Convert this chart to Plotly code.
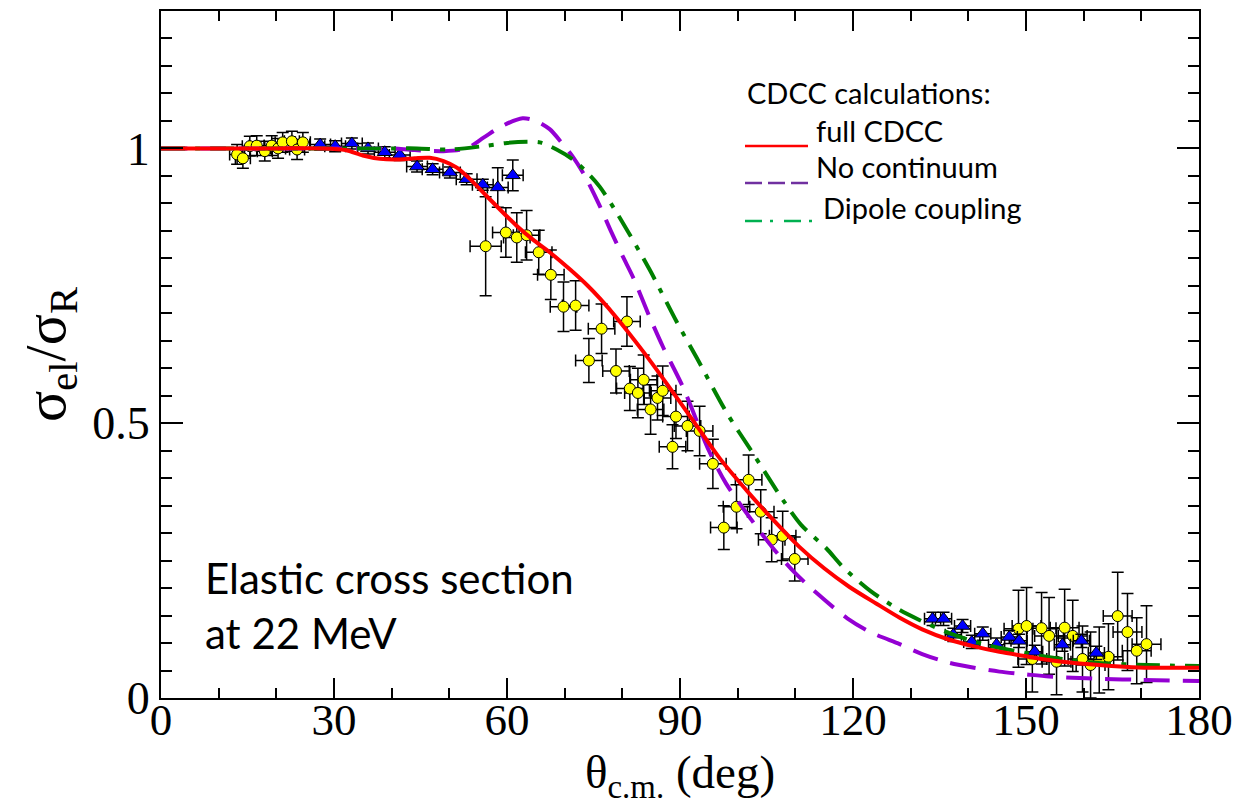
import plotly.graph_objects as go

# ---------------- data ----------------
# Theory curves (theta in deg, sigma_el/sigma_R)
full_x = [0, 10, 20, 28, 32, 35, 38, 41.4, 44, 46.6, 49, 51.3, 53.5, 56.5, 60, 62, 64.5, 67.4, 71, 74, 76.1,
          79, 83.5, 87.7, 93.4, 96.9, 102.1, 106, 110.7, 115, 119.4, 124, 128.1, 132, 136.7, 141, 145.4,
          150, 154, 158, 162.7, 167, 171.4, 176, 180]
full_y = [1.0, 1.0, 1.0, 1.0, 0.997, 0.987, 0.981, 0.98, 0.982, 0.983, 0.977, 0.965, 0.945, 0.913, 0.876,
          0.856, 0.834, 0.811, 0.779, 0.750, 0.727, 0.692, 0.632, 0.572, 0.488, 0.436, 0.371, 0.326, 0.275,
          0.236, 0.202, 0.172, 0.146, 0.125, 0.106, 0.094, 0.084, 0.076, 0.069, 0.064, 0.060, 0.057, 0.055,
          0.055, 0.055]

nocont_x = [0, 10, 20, 30, 38, 40, 44, 49, 53, 56, 59, 62.7, 65, 67.4, 69.5, 71.4, 73.5, 76.1, 78, 80.1, 81.8,
            84.7, 87, 90.5, 95.1, 98, 102.4, 106.1, 109.9, 113.7, 119, 123, 128.1, 132, 136.7, 141, 145.4,
            150, 154, 158, 162.7, 170, 180]
nocont_y = [1.0, 1.0, 1.0, 1.0, 1.0, 1.0, 0.997, 0.995, 1.0, 1.02, 1.04, 1.055, 1.05, 1.035, 1.01, 0.985,
            0.95, 0.895, 0.85, 0.803, 0.767, 0.694, 0.640, 0.566, 0.448, 0.39, 0.324, 0.273, 0.228, 0.191,
            0.145, 0.12, 0.098, 0.08, 0.064, 0.055, 0.048, 0.043, 0.039, 0.037, 0.035, 0.033, 0.031]

dipole_x = [0, 10, 20, 30, 40, 44.4, 50, 55.8, 60, 63.5, 65.7, 68.6, 71.4, 74, 76.1, 79.2, 84.7, 89.4, 92.9,
            98.1, 102.6, 107.8, 111, 115.4, 118.2, 123, 128.1, 131.5, 136.7, 141, 145, 150, 154, 158, 162,
            171, 180]
dipole_y = [1.0, 1.0, 1.0, 1.0, 1.0, 1.0, 0.998, 1.004, 1.01, 1.012, 1.011, 0.998, 0.98, 0.955, 0.93, 0.88,
            0.78, 0.685, 0.619, 0.519, 0.446, 0.361, 0.315, 0.272, 0.239, 0.195, 0.160, 0.142, 0.118, 0.103,
            0.092, 0.082, 0.074, 0.069, 0.064, 0.060, 0.058]

# Experimental data set 1 (yellow circles)
circ_x = [13.2, 14.2, 15.4, 16.6, 18.0, 19.2, 20.3, 21.1, 22.7, 23.6, 24.6,
          56.3, 59.8, 61.7, 63.4, 65.5, 67.6, 69.8, 71.9, 74.2, 76.4, 78.9, 80.8, 81.3, 82.7, 83.7, 84.9,
          86.1, 87.0, 88.7, 89.3, 91.3, 93.4, 95.7, 97.6, 99.8, 101.9, 104.0, 105.9, 107.8, 109.9,
          148.7, 150.1, 151.1, 152.7, 154.0, 155.3, 156.7, 158.1, 159.8, 161.2, 162.7, 164.3, 165.9, 167.6,
          169.2, 170.9]
circ_y = [0.989, 0.982, 1.004, 1.005, 0.995, 1.005, 1.0, 1.011, 1.013, 0.998, 1.011,
          0.822, 0.847, 0.838, 0.842, 0.811, 0.770, 0.712, 0.714, 0.614, 0.672, 0.595, 0.685, 0.563, 0.555,
          0.579, 0.525, 0.546, 0.559, 0.457, 0.512, 0.495, 0.486, 0.426, 0.310, 0.348, 0.397, 0.339, 0.288,
          0.295, 0.253,
          0.126, 0.131, 0.071, 0.127, 0.113, 0.066, 0.128, 0.113, 0.071, 0.060, 0.069, 0.075, 0.149, 0.120,
          0.086, 0.098]
circ_ex = [1.3] * 11 + [2.7] + [2.3] * 29 + [2.5] * 16
circ_ey = [0.018] * 11 + [0.09, 0.045, 0.045, 0.045, 0.04, 0.045, 0.045, 0.045, 0.04, 0.045, 0.04,
                          0.045, 0.04, 0.045, 0.045, 0.045, 0.04, 0.045, 0.04, 0.04, 0.045, 0.045, 0.045,
                          0.04, 0.04, 0.045, 0.04, 0.04, 0.045, 0.04] + \
          [0.07, 0.07, 0.06, 0.065, 0.07, 0.06, 0.07, 0.065, 0.06, 0.06, 0.06, 0.06, 0.08, 0.07, 0.06, 0.07]

# Experimental data set 2 (blue triangles)
tri_x = [27.6, 30.2, 33.1, 35.9, 38.8, 41.4, 44.4, 47.1, 50.1, 53.0, 55.8, 58.4, 61.0,
         133.8, 135.7, 137.4, 139.0, 140.6, 142.5, 144.9, 147.1, 148.8, 151.5, 156.3, 159.6, 162.2]
tri_y = [1.007, 1.004, 1.009, 1.0, 0.993, 0.988, 0.967, 0.962, 0.956, 0.944, 0.934, 0.929, 0.951,
         0.144, 0.144, 0.115, 0.131, 0.102, 0.117, 0.097, 0.111, 0.104, 0.084, 0.097, 0.104, 0.082]
tri_ex = [1.8] * 13 + [1.4] * 13
tri_ey = [0.01] * 11 + [0.036, 0.028] + [0.012] * 13

x_ticks = [0, 30, 60, 90, 120, 150, 180]
y_ticks = [0, 0.5, 1]
y_ticktext = ["0", "0.5", "1"]

# ---------------- figure ----------------
L, R, T, B = 161, 1199, 11, 698


def px(xp):
    return (xp - L) / (R - L)


def py(yp):
    return (B - yp) / (B - T)


fig = go.Figure()

err_style = dict(type="data", color="black", thickness=1.5, width=6, visible=True)

fig.add_trace(go.Scatter(
    x=circ_x, y=circ_y, mode="markers",
    marker=dict(symbol="circle", size=11, color="#ffff00", line=dict(color="black", width=1)),
    error_x=dict(array=circ_ex, **err_style),
    error_y=dict(array=circ_ey, **err_style),
    showlegend=False))

fig.add_trace(go.Scatter(
    x=tri_x, y=tri_y, mode="markers",
    marker=dict(symbol="triangle-up", size=13, color="#0000ff", line=dict(color="black", width=1)),
    error_x=dict(array=tri_ex, **err_style),
    error_y=dict(array=tri_ey, **err_style),
    showlegend=False))

fig.add_trace(go.Scatter(x=nocont_x, y=nocont_y, mode="lines",
                         line=dict(color="#9400d3", width=4, dash="26px,13px", shape="spline", smoothing=0.8),
                         showlegend=False))
fig.add_trace(go.Scatter(x=dipole_x, y=dipole_y, mode="lines",
                         line=dict(color="#008000", width=4, dash="24px,10px,5px,10px", shape="spline",
                                   smoothing=0.8),
                         showlegend=False))
fig.add_trace(go.Scatter(x=full_x, y=full_y, mode="lines",
                         line=dict(color="#ff0000", width=4, shape="spline", smoothing=0.8),
                         showlegend=False))

serif = "Liberation Serif, Times New Roman, serif"
sans = "Lato, Open Sans, sans-serif"

fig.update_xaxes(
    range=[0, 180], tickvals=x_ticks, ticks="inside", ticklen=20, tickwidth=1.5, tickcolor="black",
    minor=dict(dtick=10, ticks="inside", ticklen=10, tickwidth=1.5, tickcolor="black"),
    showline=True, linecolor="black", linewidth=2, mirror="ticks", showgrid=False, zeroline=False,
    tickfont=dict(family=serif, size=45, color="black"), ticklabelstandoff=-19,
)
fig.update_yaxes(
    range=[0, 1.25], tickvals=y_ticks, ticktext=y_ticktext, ticks="inside", ticklen=22, tickwidth=1.5,
    tickcolor="black",
    minor=dict(dtick=0.05, ticks="inside", ticklen=11, tickwidth=1.5, tickcolor="black"),
    showline=True, linecolor="black", linewidth=2, mirror="ticks", showgrid=False, zeroline=False,
    tickfont=dict(family=serif, size=46, color="black"),
    title=dict(text="σ<sub>el</sub>/σ<sub>R</sub>", font=dict(family=serif, size=58, color="black"), standoff=8),
)

legend_font = dict(family=sans, size=29, color="black")
annotations = [
    dict(x=px(745), y=py(92), text="CDCC calculations:", xanchor="left", yanchor="middle", font=legend_font),
    dict(x=px(814), y=py(131), text="full CDCC", xanchor="left", yanchor="middle", font=legend_font),
    dict(x=px(814), y=py(167), text="No continuum", xanchor="left", yanchor="middle", font=legend_font),
    dict(x=px(821), y=py(207), text="Dipole coupling", xanchor="left", yanchor="middle", font=legend_font),
    dict(x=px(203), y=py(605), text="Elastic cross section<br>at 22 MeV", xanchor="left", yanchor="middle",
         align="left", font=dict(family=sans, size=42, color="black")),
    # x-axis title
    dict(x=0.5, y=py(806), text="θ<sub>c.m.</sub> (deg)", xanchor="center", yanchor="bottom", borderpad=0,
         font=dict(family=serif, size=47, color="black")),
]
for a in annotations:
    a.update(xref="paper", yref="paper", showarrow=False)

shapes = [
    dict(type="line", x0=px(745), x1=px(808), y0=py(146), y1=py(146),
         line=dict(color="#ff0000", width=2.5)),
    dict(type="line", x0=px(745), x1=px(808), y0=py(183), y1=py(183),
         line=dict(color="#7030a0", width=2.5, dash="17px,6px")),
    dict(type="line", x0=px(745), x1=px(812), y0=py(221), y1=py(221),
         line=dict(color="#00b050", width=2.5, dash="17px,8px,3px,11px")),
]
for s in shapes:
    s.update(xref="paper", yref="paper")

fig.update_layout(
    width=1243, height=807,
    margin=dict(l=L, r=1243 - R, t=T, b=807 - B, autoexpand=False),
    paper_bgcolor="white", plot_bgcolor="white",
    annotations=annotations, shapes=shapes,
    showlegend=False,
)

fig.write_html("out.html")
